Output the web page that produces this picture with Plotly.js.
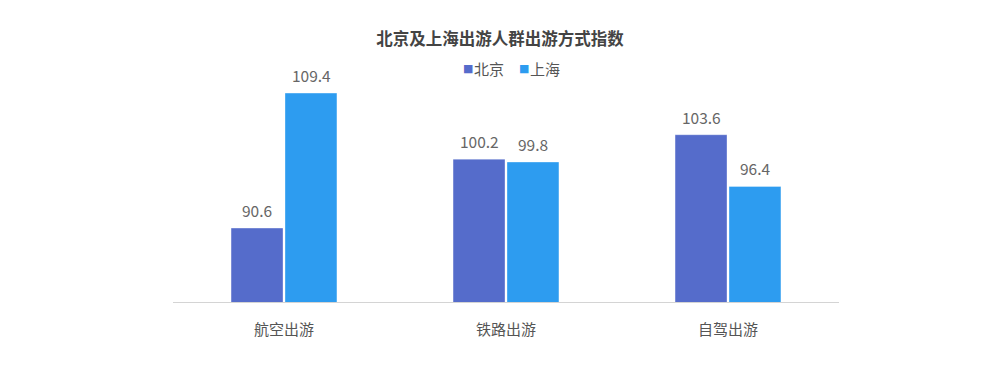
<!DOCTYPE html>
<html><head><meta charset="utf-8">
<script src="https://cdn.plot.ly/plotly-3.0.1.min.js"></script>
<style>html,body{margin:0;padding:0;background:#fff}#c{width:1000px;height:374px}</style>
</head><body><div id="c"></div>
<script>
const categories = ["航空出游", "铁路出游", "自驾出游"];
const seriesNames = ["北京", "上海"];
const beijing = [90.6, 100.2, 103.6];
const shanghai = [109.4, 99.8, 96.4];
const colors = ["#556ccb", "#2d9cf0"];
const font = '"Noto Sans CJK SC", "Noto Sans", sans-serif';
const vals = [beijing, shanghai];
const traces = vals.map((v, i) => ({
  type: "bar", name: seriesNames[i], x: categories, y: v,
  base: 0, marker: {color: colors[i], line: {color: "rgba(255,255,255,0.35)", width: 1}},
  showlegend: false, hoverinfo: "x+y"
}));
// value labels above bars
const annotations = [];
vals.forEach((v, i) => {
  v.forEach((n, j) => {
    annotations.push({
      x: categories[j], y: n, xref: "x", yref: "y", text: n.toFixed(1), showarrow: false,
      xshift: (i === 0 ? -27 : 27), yshift: 18, yanchor: "middle", xanchor: "center",
      font: {family: font, size: 15.5, color: "#666"}
    });
  });
});
// legend (custom, compact square markers)
const legendX = [461, 517];
seriesNames.forEach((nm, i) => {
  annotations.push({xref: "paper", yref: "paper", x: (legendX[i] - 173) / 666, y: (302 - 68) / 285,
    xanchor: "left", yanchor: "middle", showarrow: false, text: "■",
    font: {family: "DejaVu Sans", size: 11, color: colors[i]}});
  annotations.push({xref: "paper", yref: "paper", x: (legendX[i] + 11 - 173) / 666, y: (302 - 68) / 285,
    xanchor: "left", yanchor: "middle", showarrow: false, text: nm,
    font: {family: font, size: 15, color: "#555"}});
});
const layout = {
  width: 1000, height: 374,
  margin: {l: 173, r: 161, t: 17, b: 72},
  paper_bgcolor: "#fff", plot_bgcolor: "#fff",
  font: {family: font, color: "#555"},
  title: {text: "<b>北京及上海出游人群出游方式指数</b>", x: 0.5, xanchor: "center", y: 1 - 39 / 374, yanchor: "middle",
    font: {family: font, size: 16.5, color: "#444"}},
  showlegend: false,
  annotations: annotations,
  barmode: "group", bargap: 0.514, bargroupgap: 0.037,
  xaxis: {showline: true, linecolor: "#d4d4d4", linewidth: 1, ticks: "", showgrid: false, zeroline: false,
    tickfont: {family: font, size: 15, color: "#555"}, ticklabelstandoff: 14},
  yaxis: {range: [80.3, 120], visible: false, showgrid: false, zeroline: false}
};
Plotly.newPlot("c", traces, layout, {displayModeBar: false, staticPlot: true});
</script></body></html>
